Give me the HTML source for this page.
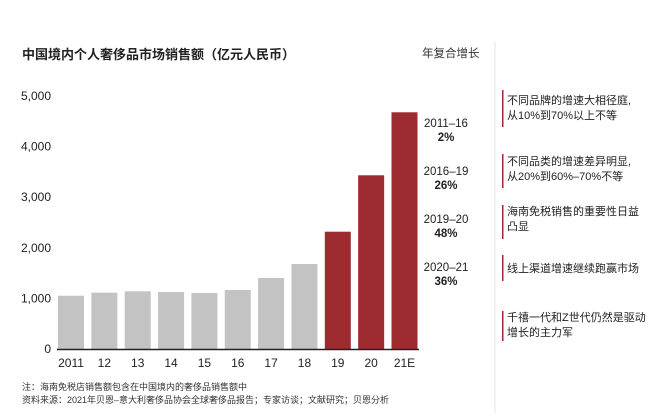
<!DOCTYPE html>
<html><head><meta charset="utf-8"><style>
body{margin:0;background:#fff;}
svg text{font-family:"Liberation Sans","Noto Sans CJK SC",sans-serif;}
</style></head><body>
<svg width="660" height="413" viewBox="0 0 660 413" xmlns="http://www.w3.org/2000/svg">
<rect width="660" height="413" fill="#fff"/>
<text x="22" y="59" font-size="13" font-weight="bold" fill="#222">中国境内个人奢侈品市场销售额（亿元人民币）</text>
<text x="422" y="57" font-size="11.5" fill="#333">年复合增长</text>
<line x1="495" y1="42" x2="495" y2="413" stroke="#e6e6e6" stroke-width="1"/>
<g id="yaxis"></g>
<g id="bars"></g>
<g id="xaxis"></g>
<line x1="57" y1="349.5" x2="419" y2="349.5" stroke="#222" stroke-width="1.5"/>
<g font-size="11.5" fill="#222" text-anchor="middle">
<text x="446" y="127">2011–16</text><text x="446" y="141" font-weight="bold">2%</text>
<text x="446" y="175">2016–19</text><text x="446" y="189" font-weight="bold">26%</text>
<text x="446" y="223">2019–20</text><text x="446" y="237" font-weight="bold">48%</text>
<text x="446" y="271">2020–21</text><text x="446" y="285" font-weight="bold">36%</text>
</g>
<g font-size="11" fill="#222">
<rect x="502" y="90" width="1.5" height="37" fill="#9c2a2e"/>
<text x="507" y="104">不同品牌的增速大相径庭,</text><text x="507" y="119">从10%到70%以上不等</text>
<rect x="502" y="154" width="1.5" height="34" fill="#9c2a2e"/>
<text x="507" y="165">不同品类的增速差异明显,</text><text x="507" y="180">从20%到60%–70%不等</text>
<rect x="502" y="205" width="1.5" height="34" fill="#9c2a2e"/>
<text x="507" y="215">海南免税销售的重要性日益</text><text x="507" y="230">凸显</text>
<rect x="502" y="255" width="1.5" height="26" fill="#9c2a2e"/>
<text x="507" y="272">线上渠道增速继续跑赢市场</text>
<rect x="502" y="311" width="1.5" height="30" fill="#9c2a2e"/>
<text x="507" y="321">千禧一代和Z世代仍然是驱动</text><text x="507" y="336">增长的主力军</text>
</g>
<g font-size="9" fill="#333">
<text x="22" y="390">注：海南免税店销售额包含在中国境内的奢侈品销售额中</text>
<text x="22" y="403">资料来源：2021年贝恩–意大利奢侈品协会全球奢侈品报告；专家访谈；文献研究；贝恩分析</text>
</g>
</svg>
<script>
const categories=["2011","12","13","14","15","16","17","18","19","20","21E"];
const values=[1053,1113,1140,1126,1107,1166,1403,1680,2318,3433,4678];
const highlighted=[false,false,false,false,false,false,false,false,true,true,true];
const yTicks=[0,1000,2000,3000,4000,5000];
const yTickLabels=["0","1,000","2,000","3,000","4,000","5,000"];
const NS="http://www.w3.org/2000/svg";
const y0=349,pxPer=(349-96)/5000;
function yScale(v){return y0-v*pxPer;}
function xScale(i){return 58+i*33.35;}
const bw=26;
const bars=document.getElementById('bars'),xa=document.getElementById('xaxis'),ya=document.getElementById('yaxis');
values.forEach((v,i)=>{
 const r=document.createElementNS(NS,'rect');
 r.setAttribute('x',xScale(i));r.setAttribute('y',yScale(v));
 r.setAttribute('width',bw);r.setAttribute('height',y0-yScale(v));
 r.setAttribute('fill',highlighted[i]?'#9e2b2f':'#c3c3c3');
 
 
 bars.appendChild(r);
 const t=document.createElementNS(NS,'text');
 t.setAttribute('x',xScale(i)+bw/2);t.setAttribute('y',367);
 t.setAttribute('text-anchor','middle');t.setAttribute('font-size','12');t.setAttribute('fill','#222');
 t.textContent=categories[i];
 
 
 xa.appendChild(t);
});
yTicks.forEach((v,i)=>{
 const t=document.createElementNS(NS,'text');
 t.setAttribute('x',51);t.setAttribute('y',yScale(v)+4);
 t.setAttribute('text-anchor','end');t.setAttribute('font-size','12');t.setAttribute('fill','#222');
 t.textContent=yTickLabels[i];
 
 
 ya.appendChild(t);
});
</script>
</body></html>
